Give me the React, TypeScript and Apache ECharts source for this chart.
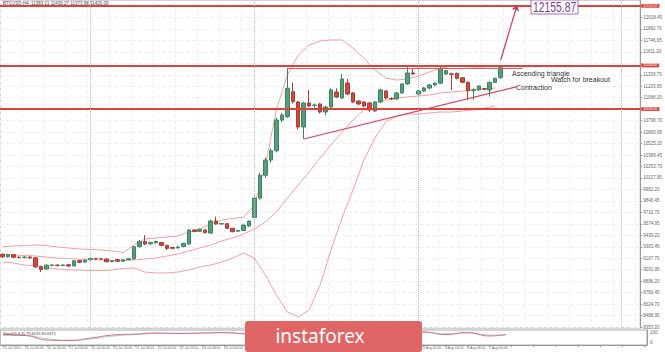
import { useEffect, useRef } from 'react';
import * as echarts from 'echarts';

const tradingDays = ['15 Jul', '16 Jul', '17 Jul', '20 Jul', '21 Jul', '22 Jul', '23 Jul', '24 Jul', '27 Jul', '28 Jul', '29 Jul', '30 Jul', '31 Jul', '3 Aug', '4 Aug', '5 Aug'];
const hours = ['00:00', '04:00', '08:00', '12:00', '16:00', '20:00'];
const firstHourIndex = 2;
const candleCount = 92;
const totalSlots = 117;
const logoCoveredLabels = [44, 72];

const opens = [9214, 9185, 9210, 9180, 9176, 9181, 9172, 9067, 9040, 9082, 9086, 9081, 9090, 9076, 9140, 9122, 9150, 9163, 9160, 9158, 9128, 9150, 9132, 9150, 9160, 9304, 9365, 9338, 9350, 9355, 9320, 9295, 9290, 9305, 9336, 9502, 9486, 9502, 9465, 9608, 9573, 9576, 9522, 9488, 9495, 9550, 9650, 9880, 10150, 10330, 10440, 10804, 10843, 11139, 11017, 10721, 11006, 10975, 10994, 10899, 10958, 11136, 11065, 11242, 11124, 11029, 11017, 11006, 10911, 11017, 11148, 11060, 11053, 11124, 11231, 11361, 11112, 11148, 11183, 11219, 11240, 11349, 11350, 11357, 11305, 11250, 11155, 11160, 11175, 11160, 11250, 11305];
const closes = [9185, 9210, 9180, 9176, 9181, 9172, 9067, 9035, 9085, 9086, 9081, 9087, 9076, 9138, 9120, 9145, 9163, 9160, 9157, 9127, 9138, 9132, 9150, 9162, 9304, 9365, 9335, 9355, 9366, 9320, 9285, 9285, 9300, 9344, 9502, 9483, 9510, 9470, 9608, 9573, 9578, 9522, 9482, 9495, 9560, 9608, 9880, 10150, 10330, 10440, 10804, 10863, 11180, 11021, 10721, 11006, 10970, 10982, 10899, 10958, 11160, 11077, 11290, 11112, 11017, 10994, 10970, 10923, 11017, 11160, 11065, 11055, 11124, 11231, 11361, 11349, 11148, 11183, 11219, 11240, 11405, 11388, 11345, 11298, 11250, 11150, 11162, 11207, 11170, 11250, 11298, 11423];
const lows = [9170, 9175, 9168, 9165, 9168, 9160, 9050, 9005, 9030, 9070, 9072, 9074, 9066, 9070, 9110, 9115, 9140, 9150, 9148, 9118, 9120, 9124, 9125, 9144, 9150, 9295, 9326, 9328, 9342, 9310, 9265, 9276, 9282, 9298, 9330, 9476, 9480, 9462, 9455, 9565, 9565, 9515, 9475, 9480, 9490, 9540, 9640, 9860, 10120, 10300, 10420, 10780, 10830, 11000, 10690, 10579, 10955, 10950, 10880, 10860, 10945, 11065, 11055, 11100, 11005, 10980, 10955, 10900, 10900, 11005, 11050, 11040, 11045, 11115, 11220, 11340, 11100, 11135, 11170, 11205, 11230, 11340, 11160, 11285, 11240, 11041, 11041, 11150, 11155, 11080, 11240, 11295];
const highs = [9225, 9220, 9218, 9190, 9192, 9190, 9180, 9080, 9095, 9098, 9096, 9097, 9098, 9145, 9150, 9152, 9172, 9172, 9168, 9165, 9148, 9158, 9158, 9170, 9312, 9385, 9440, 9362, 9374, 9362, 9326, 9302, 9316, 9350, 9510, 9510, 9518, 9508, 9625, 9659, 9586, 9582, 9528, 9502, 9566, 9615, 9900, 10180, 10360, 10470, 10830, 10890, 11420, 11246, 11030, 11020, 11160, 11000, 11005, 10970, 11180, 11180, 11349, 11290, 11135, 11040, 11030, 11015, 11030, 11175, 11160, 11075, 11135, 11240, 11455, 11420, 11160, 11195, 11230, 11250, 11455, 11400, 11365, 11365, 11310, 11260, 11180, 11215, 11185, 11260, 11305, 11440];

const bbIndex = [0, 2, 4, 6, 8, 10, 12, 14, 16, 18, 20, 22, 24, 26, 28, 30, 32, 34, 36, 38, 40, 42, 44, 46, 48, 50, 52, 54, 56, 58, 60, 62, 64, 66, 68, 70, 72, 74, 76, 78, 80, 82, 84, 86, 88, 90];
const bbUpper = [9304, 9312, 9318, 9324, 9318, 9300, 9289, 9277, 9271, 9265, 9253, 9235, 9324, 9395, 9407, 9419, 9431, 9478, 9514, 9573, 9620, 9638, 9650, 9798, 10271, 10923, 11337, 11574, 11692, 11740, 11752, 11752, 11657, 11538, 11396, 11302, 11278, 11290, 11325, 11373, 11420, 11444, 11444, 11432, 11432, 11444];
const bbMiddle = [9214, 9206, 9200, 9194, 9182, 9170, 9164, 9158, 9152, 9147, 9141, 9141, 9147, 9158, 9170, 9194, 9218, 9253, 9289, 9324, 9372, 9407, 9454, 9514, 9597, 9715, 9881, 10035, 10188, 10354, 10508, 10662, 10804, 10923, 11006, 11041, 11065, 11077, 11089, 11100, 11124, 11136, 11148, 11160, 11171, 11183];
const bbLower = [9123, 9111, 9087, 9076, 9052, 9040, 9028, 9028, 9022, 9022, 9028, 9046, 9052, 9004, 8993, 8993, 9004, 9028, 9064, 9087, 9123, 9170, 9229, 9170, 8969, 8732, 8531, 8472, 8555, 8851, 9265, 9644, 9975, 10331, 10591, 10781, 10852, 10875, 10875, 10887, 10899, 10899, 10911, 10923, 10946, 10970];

const oscIndex = [0, 4, 8, 12, 16, 20, 24, 28, 32, 36, 40, 44, 48, 52, 56, 60, 64, 68, 72, 76, 80, 84, 88, 91];
const oscMain = [67, 63, 33, 30, 47, 67, 73, 80, 77, 80, 83, 73, 70, 75, 72, 78, 75, 72, 80, 87, 70, 83, 60, 70];
const oscSignal = [70, 66, 42, 32, 40, 60, 70, 77, 78, 79, 81, 77, 72, 73, 73, 76, 76, 73, 77, 84, 75, 80, 66, 67];

const yTicks = [8353.2, 8488.95, 8624.7, 8760.45, 8896.2, 9031.95, 9167.7, 9303.45, 9439.2, 9574.95, 9710.7, 9846.45, 9982.2, 10117.95, 10253.7, 10389.45, 10525.2, 10660.95, 10796.7, 10932.45, 11068.2, 11203.95, 11339.7, 11475.45, 11611.2, 11746.95, 11882.7, 12018.45, 12154.2];
const yTicksUnderTags = [10932.45, 11475.45, 12154.2];

const targetLevel = 12155.87;
const resistanceLevel = 11450;
const supportLevel = 10934;
const lastPrice = 11400;
const weekSeparators = [16, 46, 76, 113];
const triangleTop = [[52, 11420], [95, 11420]];
const triangleRise = [[55, 10579], [94, 11199]];
const arrowPath = [[91, 11515], [94, 12166]];

function buildCategories(): string[] {
  const out: string[] = [];
  tradingDays.forEach((d, di) => {
    hours.forEach((h, hi) => {
      if (di === 0 && hi < firstHourIndex) return;
      if (out.length < candleCount) out.push(d + ' ' + h);
    });
  });
  for (let i = out.length; i < totalSlots; i++) out.push('slot' + i);
  return out;
}

export default function App() {
  const ref = useRef<HTMLDivElement>(null);
  useEffect(() => {
    if (!ref.current) return;
    const chart = echarts.init(ref.current, undefined, { renderer: 'svg' });
    const categories = buildCategories();
    const ohlc = opens.map((o, i) => [o, closes[i], lows[i], highs[i]]);
    const yLabelValues = yTicks.filter((v) => !yTicksUnderTags.includes(v));
    const red = '#e0403c';
    const tag = (bg: string) => ({
      show: true,
      position: 'end' as const,
      formatter: (p: any) => Number(p.value).toFixed(2),
      backgroundColor: bg,
      color: '#fff',
      fontSize: 3.4,
      lineHeight: 3.8,
      padding: [0, 2],
      distance: 1,
    });
    const option: any = {
      animation: false,
      backgroundColor: '#ffffff',
      textStyle: { fontFamily: 'Liberation Sans' },
      grid: [
        { left: 0, top: 0, width: 647, height: 328, show: true, borderColor: '#a8a8a8', borderWidth: 1, backgroundColor: '#fff' },
        { left: 0, top: 330, width: 647, height: 15, show: true, borderColor: '#a8a8a8', borderWidth: 1 },
      ],
      xAxis: [
        {
          type: 'category', gridIndex: 0, data: categories, boundaryGap: true,
          axisLine: { show: false }, axisTick: { show: false }, axisLabel: { show: false },
          splitLine: { show: true, interval: 3, lineStyle: { color: '#f0f0f0', type: 'dashed', width: 1 } },
        },
        {
          type: 'category', gridIndex: 1, data: categories, boundaryGap: true,
          axisLine: { show: true, lineStyle: { color: '#999' } },
          axisTick: { show: true, interval: 3, length: 2, alignWithLabel: true, lineStyle: { color: '#999' } },
          axisLabel: {
            show: true, interval: 3, fontSize: 3.4, color: '#666', align: 'left', margin: 1.5, hideOverlap: false,
            formatter: (v: string, i: number) => {
              if (i === 0) return '15 Jul 2020';
              if (i >= candleCount) return '';
              if (i >= logoCoveredLabels[0] && i <= logoCoveredLabels[1]) return '';
              return v;
            },
          },
          splitLine: { show: false },
        },
      ],
      yAxis: [
        {
          type: 'value', gridIndex: 0, position: 'right', min: 8341.4, max: 12225.2,
          axisLine: { show: true, lineStyle: { color: '#999' } },
          axisTick: { show: true, length: 2, customValues: yTicks, lineStyle: { color: '#999' } },
          axisLabel: { show: true, customValues: yLabelValues, fontSize: 4.5, color: '#666', margin: 3, formatter: (v: number) => v.toFixed(2) },
          splitLine: { show: true, customValues: yTicks, lineStyle: { color: '#f0f0f0', type: 'dashed' } },
        },
        {
          type: 'value', gridIndex: 1, position: 'right', min: 0, max: 100,
          axisLine: { show: true, lineStyle: { color: '#999' } },
          axisTick: { show: false },
          axisLabel: { show: true, customValues: [20, 85], fontSize: 4.5, color: '#666', margin: 3, formatter: (v: number) => (v > 50 ? '100' : '0') },
          splitLine: { show: false },
        },
      ],
      series: [
        {
          type: 'line', xAxisIndex: 0, yAxisIndex: 0, data: bbIndex.map((x, k) => [x, bbUpper[k]]),
          showSymbol: false, lineStyle: { color: '#f2a0a0', width: 1 }, z: 1, silent: true,
        },
        {
          type: 'line', xAxisIndex: 0, yAxisIndex: 0, data: bbIndex.map((x, k) => [x, bbMiddle[k]]),
          showSymbol: false, lineStyle: { color: '#f2a0a0', width: 1 }, z: 1, silent: true,
        },
        {
          type: 'line', xAxisIndex: 0, yAxisIndex: 0, data: bbIndex.map((x, k) => [x, bbLower[k]]),
          showSymbol: false, lineStyle: { color: '#f2a0a0', width: 1 }, z: 1, silent: true,
        },
        {
          type: 'candlestick', xAxisIndex: 0, yAxisIndex: 0, data: ohlc, barWidth: 4, z: 3,
          itemStyle: { color: '#52a07a', color0: '#cc4a3f', borderColor: '#3f8462', borderColor0: '#a83c32', borderWidth: 1 },
          markLine: {
            silent: true, symbol: ['none', 'none'], animation: false,
            label: { show: false },
            data: [
              { yAxis: targetLevel, lineStyle: { color: red, width: 2, type: 'solid' }, label: tag(red) },
              { yAxis: resistanceLevel, lineStyle: { color: red, width: 2, type: 'solid' }, label: tag(red) },
              { yAxis: supportLevel, lineStyle: { color: red, width: 2, type: 'solid' }, label: tag(red) },
              { yAxis: lastPrice, lineStyle: { opacity: 0 }, label: tag('#7a7a7a') },
              ...weekSeparators.map((x) => ({ xAxis: x, lineStyle: { color: '#b8b8b8', width: 1, type: 'dotted' }, label: { show: false } })),
              [
                { coord: triangleTop[0], lineStyle: { color: '#e05a5a', width: 1, type: 'solid' } },
                { coord: triangleTop[1] },
              ],
              [
                { coord: triangleRise[0], lineStyle: { color: '#e0405a', width: 1.2, type: 'solid' } },
                { coord: triangleRise[1] },
              ],
              [
                { coord: arrowPath[0], symbol: 'none', lineStyle: { color: '#cc3366', width: 1.2, type: 'solid' } },
                { coord: arrowPath[1], symbol: 'arrow', symbolSize: 6 },
              ],
            ],
          },
        },
        {
          type: 'line', xAxisIndex: 1, yAxisIndex: 1, data: oscIndex.map((x, k) => [x, oscSignal[k]]),
          showSymbol: false, smooth: true, lineStyle: { color: '#9fd0d4', width: 1 }, silent: true,
        },
        {
          type: 'line', xAxisIndex: 1, yAxisIndex: 1, data: oscIndex.map((x, k) => [x, oscMain[k]]),
          showSymbol: false, smooth: true, lineStyle: { color: '#e07070', width: 1 }, silent: true,
        },
      ],
      graphic: [
        { type: 'text', x: 3, y: 1, z: 10, style: { text: 'BTCUSD,H4  11383.21 11436.27 11373.98 11420.00', fontSize: 4.5, fill: '#444', fontFamily: 'Liberation Sans' } },
        { type: 'text', x: 3, y: 331, z: 10, style: { text: 'Stoch(5,3,3) 79.8243 80.6371', fontSize: 4, fill: '#444', fontFamily: 'Liberation Sans' } },
        { type: 'text', x: 512, y: 70, z: 10, style: { text: 'Ascending triangle', fontSize: 7, fill: '#333', fontFamily: 'Liberation Sans' } },
        { type: 'text', x: 551, y: 76, z: 10, style: { text: 'Watch for breakout', fontSize: 7, fill: '#333', fontFamily: 'Liberation Sans' } },
        { type: 'text', x: 516, y: 84, z: 10, style: { text: 'Contraction', fontSize: 7, fill: '#333', fontFamily: 'Liberation Sans' } },
        { type: 'rect', x: 531, y: 0, z: 10, shape: { width: 47, height: 14 }, style: { fill: '#ffffff', stroke: '#8a4aa8', lineWidth: 0.8 } },
        { type: 'text', x: 533, y: 0, z: 11, scaleX: 0.74, style: { text: '12155.87', fontSize: 14, fill: '#7a3a9a', fontFamily: 'Liberation Sans' } },
        { type: 'rect', x: 245, y: 321, z: 20, shape: { width: 177, height: 31, r: 3 }, style: { fill: '#e06666' } },
        { type: 'text', x: 320, y: 336, z: 21, style: { text: 'instaforex', fontSize: 19, fill: '#ffffff', fontFamily: 'Noto Sans', align: 'center', verticalAlign: 'middle' } },
      ],
    };
    chart.setOption(option);
    return () => chart.dispose();
  }, []);
  return <div ref={ref} style={{ position: 'fixed', left: 0, top: 0, width: 665, height: 352 }} />;
}
